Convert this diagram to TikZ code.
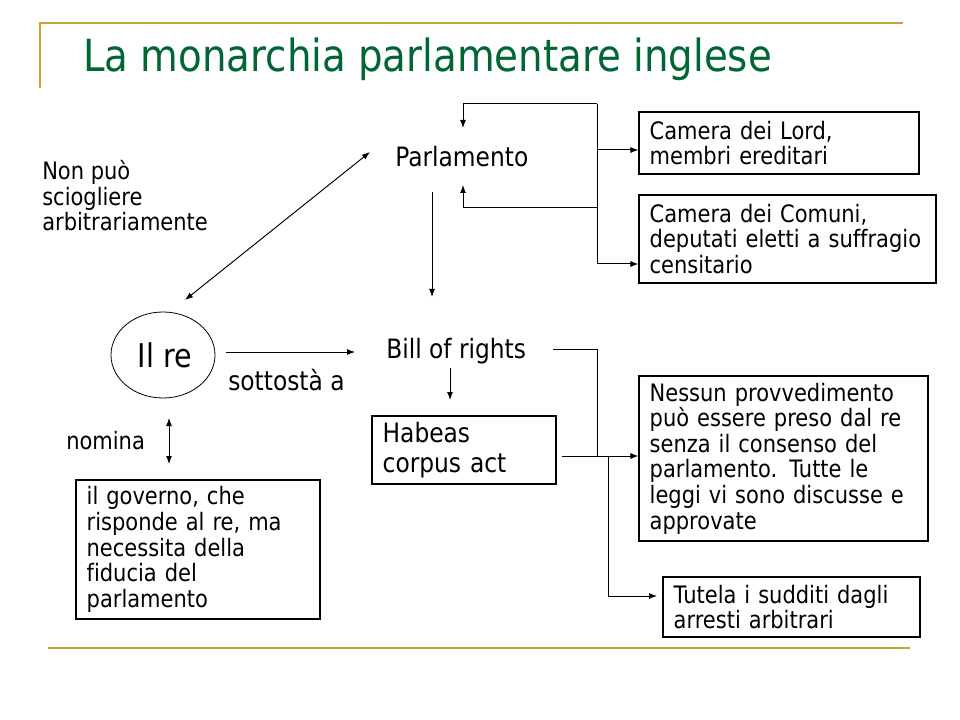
\documentclass[tikz,border=0pt]{standalone}
\usepackage{fontspec}
\setmainfont{DejaVu Sans}[FakeStretch=0.875,Ligatures=NoCommon]
\usetikzlibrary{arrows.meta,calc,shapes.geometric}
\definecolor{gold}{RGB}{200,165,50}
\definecolor{titlegreen}{RGB}{0,102,51}
\begin{document}
\begin{tikzpicture}[x=0.75pt,y=-0.75pt,
  box/.style={draw,line width=0.8pt,align=left,inner xsep=8pt,inner ysep=0pt,font=\fontsize{18}{19.2}\selectfont},
  arr/.style={-{Latex[length=6pt,width=4.5pt]},line width=0.75pt},
  darr/.style={{Latex[length=6pt,width=4.5pt]}-{Latex[length=6pt,width=4.5pt]},line width=0.75pt},
  ln/.style={line width=0.75pt},
  gline/.style={gold,line width=1.6pt},
  lbl/.style={inner sep=0pt,anchor=base west}]
\useasboundingbox (0,0) rectangle (960,720);
% decoration
\draw[gline] (40,88) -- (40,23) -- (903,23);
\draw[gline] (48,648) -- (910,648);
\node[lbl,font=\fontsize{33.2}{40}\selectfont,text=titlegreen] (title) at (83,72) {La monarchia parlamentare inglese};
% texts
\node[inner sep=0pt,anchor=west,align=left,font=\fontsize{18}{19.1}\selectfont] (np) at (42,196) {Non può\\sciogliere\\arbitrariamente};
\node[lbl,font=\fontsize{20}{24}\selectfont] (parl) at (395,167) {Parlamento};
\node[lbl,font=\fontsize{20}{24}\selectfont] (bill) at (386,358) {Bill of rights};
\node[lbl,font=\fontsize{20}{24}\selectfont] (sott) at (228,390) {sottostà a};
\node[lbl,font=\fontsize{18}{22}\selectfont] (nom) at (66,449) {nomina};
\node[draw,ellipse,line width=0.6pt,inner sep=0pt,minimum width=78pt,minimum height=64.5pt,font=\fontsize{24.5}{28}\selectfont] (re) at (163,355) {\hspace*{3pt}Il re};
% boxes
\node[box,minimum width=210pt,minimum height=46.5pt,text width=194pt] (lord) at (779,143) {Camera dei Lord,\\membri ereditari};
\node[box,minimum width=222.75pt,minimum height=66pt,text width=206.75pt] (com) at (787.5,239) {Camera dei Comuni,\\deputati eletti a suffragio\\censitario};
\node[box,minimum width=138pt,minimum height=51pt,text width=122pt,font=\fontsize{20}{22.5}\selectfont] (hab) at (464,450) {Habeas\\corpus act};
\node[box,minimum width=216.75pt,minimum height=123.75pt,text width=200.75pt] (ness) at (783.5,458.5) {Nessun provvedimento\\può essere preso dal re\\senza il consenso del\\parlamento. Tutte le\\leggi vi sono discusse e\\approvate};
\node[box,minimum width=192.75pt,minimum height=45pt,text width=176.75pt] (tut) at (791.5,607) {Tutela i sudditi dagli\\arresti arbitrari};
\node[box,minimum width=183pt,minimum height=104.25pt,text width=167pt] (gov) at (198,549.5) {il governo, che\\risponde al re, ma\\necessita della\\fiducia del\\parlamento};
% coordinates
\coordinate (bus1) at (597,104);
\coordinate (bus2) at (597,150);
\coordinate (bus3) at (597,208);
\coordinate (bus4) at (597,264);
\coordinate (pin1) at (463,128);
\coordinate (pin2) at (463,185);
\coordinate (pout) at (432,192);
\coordinate (bin) at (432,297);
\coordinate (bout) at (450,368);
\coordinate (hin) at (450,400);
\coordinate (rein) at (185,300);
\coordinate (parlin) at (370,152);
\coordinate (reout) at (226,352);
\coordinate (billin) at (355,352);
\coordinate (br1) at (553,349);
\coordinate (br2) at (597,456);
\coordinate (hout) at (562,456);
\coordinate (jn) at (608,456);
\coordinate (tin) at (657,596);
\coordinate (n1) at (169,418);
\coordinate (n2) at (169,464);
% connectors
\draw[ln] (bus1) -- (bus4);
\draw[arr] (bus1) -| (pin1);
\draw[arr] (bus3) -| (pin2);
\draw[arr] (bus2) -- (bus2 -| lord.west);
\draw[arr] (bus4) -- (bus4 -| com.west);
\draw[arr] (pout) -- (bin);
\draw[arr] (bout) -- (hin);
\draw[darr] (rein) -- (parlin);
\draw[arr] (reout) -- (billin);
\draw[ln] (br1) -| (br2);
\draw[arr] (hout) -- (hout -| ness.west);
\draw[arr] (jn) |- (tin);
\draw[darr] (n1) -- (n2);
\end{tikzpicture}
\end{document}
